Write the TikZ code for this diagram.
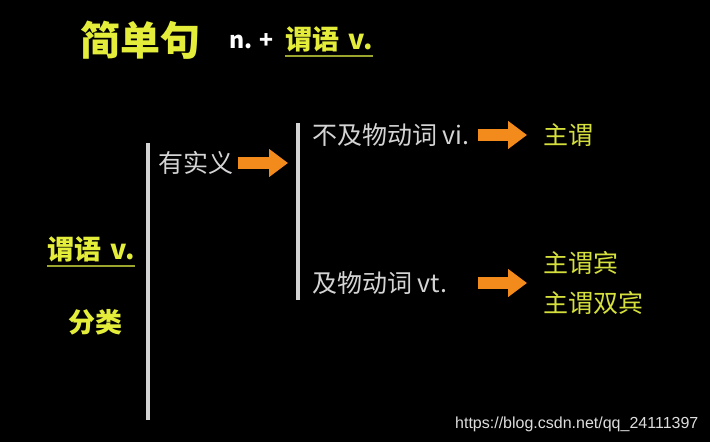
\documentclass[tikz,border=0pt]{standalone}
\usepackage{fontspec}
\newfontfamily\cjk{Noto Sans CJK SC}
\newfontfamily\urlfont{Liberation Sans}
\usepackage{tikz}
\usetikzlibrary{positioning, arrows.meta}
\definecolor{titleyellow}{HTML}{E4EE3A}
\definecolor{leafyellow}{HTML}{D6E03C}
\definecolor{lineolive}{HTML}{9CA62E}
\definecolor{textgray}{HTML}{D4D4D4}
\definecolor{arroworange}{HTML}{F28A1C}

\begin{document}
\begin{tikzpicture}[
        x=1pt, y=-1pt,
        title/.style={text=titleyellow, font=\cjk\bfseries\fontsize{40}{42}\selectfont, inner sep=0pt},
        head/.style={text=titleyellow, font=\cjk\bfseries\fontsize{27}{29}\selectfont, inner sep=0pt, anchor=west},
        item/.style={text=textgray, font=\cjk\fontsize{25}{27}\selectfont, inner sep=0pt, anchor=west},
        leaf/.style={text=leafyellow, font=\cjk\fontsize{25}{27}\selectfont, inner sep=0pt, anchor=west},
        bar/.style={draw=textgray, line width=4pt},
        uline/.style={draw=lineolive, line width=2.5pt},
        fatarrow/.style={draw=arroworange, line width=12pt, -{Triangle[length=19pt, width=27pt]}}
    ]
    \fill[black] (0,0) rectangle (710,442);

    % Title
    \node[title] (simple) at (140,40) {简单句};
    \node[item, text=white, font=\cjk\bfseries\fontsize{23}{25}\selectfont] (nplus) at (229,41) {n. +};
    \node[head] (topverb) at (285,39) {谓语\hspace{0.35em}v.};
    \draw[uline] ([yshift=-4pt]topverb.south west) -- ([yshift=-4pt]topverb.south east);

    % Left label
    \node[head] (verb) at (47,249) {谓语\hspace{0.35em}v.};
    \draw[uline] ([yshift=-4pt]verb.south west) -- ([yshift=-4pt]verb.south east);
    \node[head] (kind) at (68,322) {分类};

    % Brackets
    \coordinate (bar1top) at (148,143);
    \coordinate (bar1bot) at (148,420);
    \coordinate (bar2top) at (298,123);
    \coordinate (bar2bot) at (298,300);
    \draw[bar] (bar1top) -- (bar1bot);
    \draw[bar] (bar2top) -- (bar2bot);

    % Middle column
    \node[item] (notional) at (158,163) {有实义};
    \draw[fatarrow] ([xshift=5pt]notional.east) -- ([xshift=-10pt]notional.east -| bar2top);

    % Right column
    \node[item] (vi) at (312,135) {不及物动词 vi.};
    \node[item] (vt) at (312,283) {及物动词 vt.};
    \node[leaf] (sv) at (543,135) {主谓};
    \node[leaf] (svo) at (543,263) {主谓宾};
    \node[leaf] (svoo) at (543,303) {主谓双宾};
    \coordinate (viarrow) at (478,135);
    \coordinate (vtarrow) at (478,283);
    \draw[fatarrow] (viarrow) -- ([xshift=-16pt]sv.west);
    \draw[fatarrow] (vtarrow) -- ([xshift=-16pt]vtarrow -| svo.west);

    % Watermark
    \node[text=textgray!80, font=\urlfont\fontsize{16}{18}\selectfont, inner sep=0pt, anchor=west] (url) at (455,424) {https://blog.csdn.net/qq\_24111397};
\end{tikzpicture}
\end{document}
